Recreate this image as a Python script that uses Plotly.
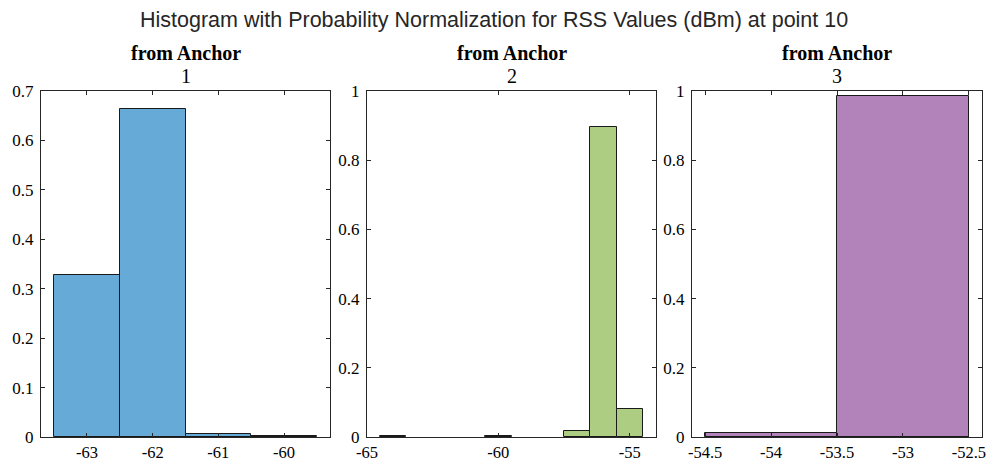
import plotly.graph_objects as go

# RSS histogram data (probability per 1 dBm bin), one panel per anchor
anchor_ids = ["1", "2", "3"]

bins_a1 = [-63, -62, -61, -60]
prob_a1 = [0.327, 0.663, 0.007, 0.003]

bins_a2 = [-64, -60, -57, -56, -55]
prob_a2 = [0.003, 0.003, 0.016, 0.897, 0.081]

bins_a3 = [-54, -53]
prob_a3 = [0.013, 0.987]

xranges = [[-63.7, -59.3], [-65, -54], [-54.6, -52.4]]
yranges = [[0, 0.7], [0, 1], [0, 1]]
xticks = [[-63, -62, -61, -60], [-65, -60, -55], [-54.5, -54, -53.5, -53, -52.5]]
xticktext = [["-63", "-62", "-61", "-60"], ["-65", "-60", "-55"],
             ["-54.5", "-54", "-53.5", "-53", "-52.5"]]
yticks = [[0, 0.1, 0.2, 0.3, 0.4, 0.5, 0.6, 0.7], [0, 0.2, 0.4, 0.6, 0.8, 1],
          [0, 0.2, 0.4, 0.6, 0.8, 1]]
yticktext = [["0", "0.1", "0.2", "0.3", "0.4", "0.5", "0.6", "0.7"],
             ["0", "0.2", "0.4", "0.6", "0.8", "1"],
             ["0", "0.2", "0.4", "0.6", "0.8", "1"]]

colors = ["#66AAD7", "#ADCD83", "#B282BB"]
series = [(bins_a1, prob_a1), (bins_a2, prob_a2), (bins_a3, prob_a3)]

W, H = 988, 463
xdom_px = [(41, 330), (367, 656), (692, 982)]
ydom = [(H - 437) / H, (H - 91) / H]

fig = go.Figure()
serif = "Liberation Serif, Times New Roman, serif"
axis_color = "#262626"

for i, ((xs, ys), col) in enumerate(zip(series, colors)):
    n = "" if i == 0 else str(i + 1)
    fig.add_trace(go.Bar(
        x=xs, y=ys, width=[1] * len(xs),
        marker=dict(color=col, line=dict(color="#1a1a1a", width=1)),
        xaxis="x" + n, yaxis="y" + n, showlegend=False,
    ))
    common = dict(
        showline=True, linecolor=axis_color, linewidth=1, mirror="allticks",
        ticks="inside", ticklen=4, tickcolor=axis_color, tickwidth=1,
        showgrid=False, zeroline=False, automargin=False,
    )
    fig.update_layout(**{
        "xaxis" + n: dict(
            domain=[xdom_px[i][0] / W, xdom_px[i][1] / W], range=xranges[i],
            anchor="y" + n, tickvals=xticks[i], ticktext=xticktext[i],
            ticklabelstandoff=0,
            tickfont=dict(family=serif, size=16.5, color="#000000"), **common),
        "yaxis" + n: dict(
            domain=ydom, range=yranges[i], anchor="x" + n,
            tickvals=yticks[i], ticktext=yticktext[i],
            ticklabelstandoff=3,
            tickfont=dict(family=serif, size=17, color="#000000"), **common),
    })
    cx = (xdom_px[i][0] + xdom_px[i][1]) / 2 / W
    fig.add_annotation(x=cx, y=(H - 53) / H, xref="paper", yref="paper",
                       text="<b>from Anchor</b>", showarrow=False,
                       font=dict(family=serif, size=20, color="#000000"),
                       xanchor="center", yanchor="middle")
    fig.add_annotation(x=cx, y=(H - 76) / H, xref="paper", yref="paper",
                       text=anchor_ids[i], showarrow=False,
                       font=dict(family=serif, size=20, color="#000000"),
                       xanchor="center", yanchor="middle")

fig.add_annotation(x=0.5, y=(H - 20) / H, xref="paper", yref="paper",
                   text="Histogram with Probability Normalization for RSS Values (dBm) at point 10",
                   showarrow=False, xanchor="center", yanchor="middle",
                   font=dict(family="Liberation Sans, Arial, sans-serif", size=21.5,
                             color="#262626"))

fig.update_layout(
    width=W, height=H, margin=dict(l=0, r=0, t=0, b=0),
    paper_bgcolor="white", plot_bgcolor="white",
    bargap=0,
)

fig.write_html("out.html")
